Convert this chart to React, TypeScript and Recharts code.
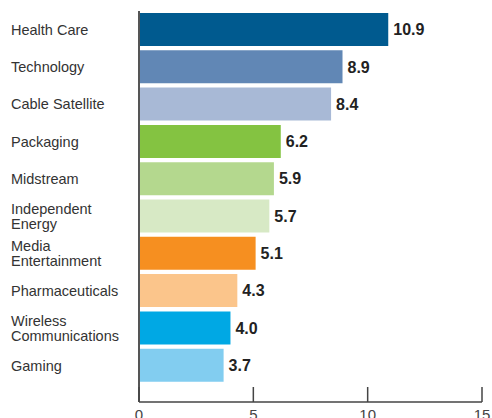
import { BarChart, Bar, XAxis, YAxis, Cell, LabelList } from 'recharts';

const categories = [
  'Health Care',
  'Technology',
  'Cable Satellite',
  'Packaging',
  'Midstream',
  'Independent Energy',
  'Media Entertainment',
  'Pharmaceuticals',
  'Wireless Communications',
  'Gaming',
];

// some labels wrap onto two lines in the original
const labelLines = [
  ['Health Care'],
  ['Technology'],
  ['Cable Satellite'],
  ['Packaging'],
  ['Midstream'],
  ['Independent', 'Energy'],
  ['Media', 'Entertainment'],
  ['Pharmaceuticals'],
  ['Wireless', 'Communications'],
  ['Gaming'],
];

const values = [10.9, 8.9, 8.4, 6.2, 5.9, 5.7, 5.1, 4.3, 4.0, 3.7];

const barColors = [
  '#005a8f',
  '#6187b5',
  '#a8b9d6',
  '#84c341',
  '#b4d88e',
  '#d7e9c5',
  '#f68f20',
  '#fbc58b',
  '#00a8e4',
  '#82cdf0',
];

const xTicks = [0, 5, 10, 15];

const data = categories.map((name, i) => ({ name, value: values[i] }));

const CategoryTick = ({ y, payload }: any) => {
  const idx = categories.indexOf(payload.value);
  const lines = labelLines[idx] || [payload.value];
  const lineH = 15.5;
  const startY = y - ((lines.length - 1) * lineH) / 2;
  return (
    <text x={11} y={startY} textAnchor="start" fill="#333" fontSize={14.5} fontFamily="'Liberation Sans', Arial, sans-serif">
      {lines.map((l: string, i: number) => (
        <tspan key={i} x={11} y={startY + i * lineH} dy="0.36em">
          {l}
        </tspan>
      ))}
    </text>
  );
};

const ValueTick = ({ x, y, payload }: any) => (
  <g>
    <line x1={x} x2={x} y1={y - 15} y2={y} stroke="#444" strokeWidth={1.5} />
    <text x={x} y={y} dy={18} textAnchor="middle" fill="#444" fontSize={15} fontFamily="'Liberation Sans', Arial, sans-serif">
      {payload.value}
    </text>
  </g>
);

const renderValue = (props: any) => {
  const { x, y, width, height, value } = props;
  return (
    <text
      x={x + width + 5}
      y={y + height / 2}
      dy="0.36em"
      fill="#222"
      fontSize={16}
      fontWeight="bold"
      fontFamily="'Liberation Sans', Arial, sans-serif"
    >
      {Number(value).toFixed(1)}
    </text>
  );
};

export default function App() {
  return (
    <div style={{ position: 'absolute', left: 0, top: 0, width: 492, height: 418, background: '#fff' }}>
      <BarChart
        width={492}
        height={418}
        data={data}
        layout="vertical"
        margin={{ top: 11, right: 10, left: 0, bottom: 0 }}
      >
        <XAxis
          type="number"
          domain={[0, 15]}
          ticks={xTicks}
          height={16}
          tickSize={0}
          tickMargin={0}
          tickLine={false}
          axisLine={{ stroke: '#444', strokeWidth: 1.5 }}
          tick={<ValueTick />}
          interval={0}
        />
        <YAxis
          type="category"
          dataKey="name"
          width={139}
          padding={{ top: 0, bottom: 18 }}
          tickLine={false}
          axisLine={{ stroke: '#555', strokeWidth: 2 }}
          tick={<CategoryTick />}
          interval={0}
        />
        <Bar dataKey="value" barSize={33} isAnimationActive={false}>
          {data.map((d, i) => (
            <Cell key={d.name} fill={barColors[i]} />
          ))}
          <LabelList dataKey="value" content={renderValue} />
        </Bar>
      </BarChart>
    </div>
  );
}
